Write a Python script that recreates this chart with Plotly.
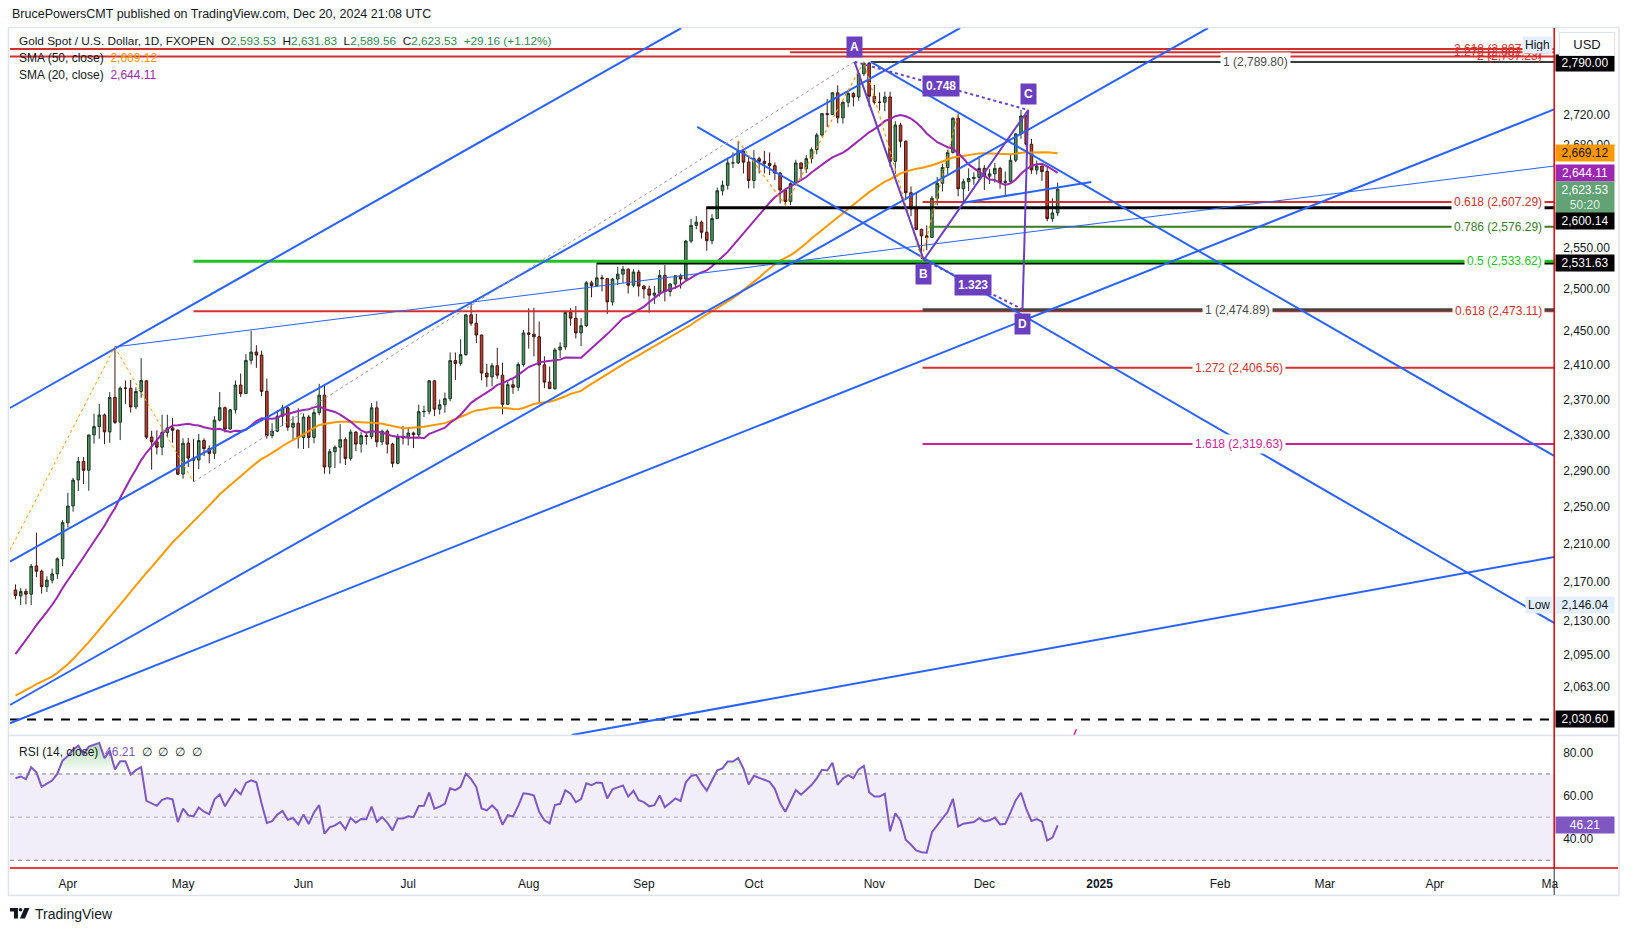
import math
import pandas as pd
import plotly.graph_objects as go

W, H = 1634, 931
FONT = "Liberation Sans, Arial, sans-serif"
TXT = "#131722"

# ---------------- data: daily bars 15 Mar 2024 .. 20 Dec 2024 (bar index 0..199) ----------------
opens = [
    2161.7, 2155.5, 2160.2, 2157.2, 2186.9, 2181.4, 2165.1, 2171.9, 2178.6, 2194.5,
    2233.0, 2251.2, 2279.7, 2300.2, 2290.4, 2329.8, 2339.3, 2352.4, 2333.2, 2372.5,
    2344.2, 2383.1, 2383.0, 2361.6, 2379.3, 2391.5, 2327.4, 2322.1, 2316.1, 2332.6,
    2337.7, 2335.1, 2286.1, 2320.6, 2303.9, 2301.7, 2323.5, 2314.5, 2309.2, 2346.5,
    2360.6, 2336.4, 2358.3, 2386.6, 2376.7, 2415.3, 2425.0, 2421.4, 2379.3, 2329.0,
    2334.0, 2351.0, 2360.5, 2338.5, 2343.0, 2327.0, 2350.0, 2327.0, 2355.0, 2375.0,
    2294.0, 2311.0, 2316.0, 2324.5, 2303.5, 2333.0, 2319.5, 2329.0, 2328.0, 2360.5,
    2322.0, 2334.0, 2319.5, 2298.0, 2327.0, 2326.5, 2332.0, 2330.0, 2356.0, 2356.5,
    2391.5, 2359.0, 2364.0, 2371.0, 2415.0, 2411.5, 2422.0, 2469.0, 2459.0, 2445.0,
    2400.5, 2396.0, 2409.0, 2398.0, 2364.5, 2387.0, 2384.0, 2410.5, 2447.5, 2446.0,
    2443.0, 2410.0, 2390.0, 2382.5, 2427.5, 2431.0, 2472.0, 2465.0, 2447.5, 2456.0,
    2507.5, 2504.0, 2513.5, 2512.5, 2484.5, 2512.0, 2518.0, 2524.0, 2504.5, 2520.5,
    2503.5, 2500.0, 2492.5, 2495.0, 2516.5, 2497.0, 2506.0, 2516.0, 2512.0, 2558.5,
    2578.0, 2582.0, 2569.5, 2559.0, 2586.5, 2621.5, 2628.5, 2657.0, 2657.0, 2672.0,
    2658.0, 2634.5, 2662.5, 2659.0, 2656.5, 2653.5, 2644.0, 2622.5, 2608.0, 2630.5,
    2657.0, 2649.5, 2662.5, 2674.0, 2693.0, 2721.0, 2720.0, 2748.5, 2715.5, 2736.0,
    2747.5, 2743.0, 2774.0, 2788.0, 2744.0, 2736.0, 2736.0, 2743.0, 2659.0, 2706.0,
    2685.0, 2619.0, 2598.5, 2573.0, 2565.0, 2563.0, 2612.0, 2631.0, 2651.0, 2670.5,
    2715.0, 2624.0, 2633.0, 2637.0, 2638.5, 2650.0, 2640.0, 2643.0, 2650.0, 2632.0,
    2633.5, 2660.5, 2694.5, 2718.0, 2681.0, 2648.0, 2653.0, 2646.0, 2586.5, 2593.53,
]
highs = [
    2167.5, 2163.7, 2163.1, 2188.9, 2222.4, 2183.0, 2176.0, 2184.0, 2196.0, 2236.0,
    2265.6, 2282.0, 2305.1, 2304.9, 2330.2, 2353.8, 2365.0, 2354.0, 2378.5, 2431.5,
    2385.0, 2392.0, 2392.5, 2384.0, 2417.8, 2392.0, 2334.5, 2335.0, 2352.5, 2352.7,
    2349.0, 2336.0, 2326.0, 2326.5, 2325.0, 2331.0, 2326.0, 2318.0, 2351.0, 2378.6,
    2362.0, 2359.0, 2392.0, 2400.0, 2422.5, 2450.1, 2433.0, 2426.5, 2394.0, 2343.0,
    2358.0, 2364.0, 2362.0, 2351.0, 2360.0, 2354.0, 2352.0, 2359.0, 2388.0, 2387.5,
    2314.0, 2318.0, 2342.0, 2327.0, 2336.0, 2334.0, 2333.0, 2332.0, 2366.0, 2368.0,
    2336.0, 2336.0, 2321.0, 2331.0, 2340.0, 2338.5, 2333.5, 2364.0, 2363.0, 2392.5,
    2392.0, 2370.0, 2378.0, 2424.5, 2424.5, 2440.0, 2469.0, 2483.5, 2470.0, 2445.5,
    2411.0, 2412.0, 2430.0, 2412.5, 2390.5, 2393.0, 2413.0, 2451.0, 2477.0, 2477.5,
    2461.0, 2420.0, 2408.0, 2430.0, 2436.5, 2474.0, 2477.0, 2479.5, 2465.0, 2509.5,
    2510.0, 2531.5, 2517.0, 2513.0, 2513.5, 2527.0, 2528.0, 2525.0, 2524.0, 2523.5,
    2505.0, 2504.0, 2503.5, 2523.0, 2529.0, 2507.0, 2517.0, 2518.5, 2560.0, 2586.0,
    2589.5, 2584.0, 2600.0, 2592.0, 2625.5, 2634.5, 2664.0, 2670.5, 2685.5, 2674.5,
    2665.0, 2673.5, 2665.0, 2672.5, 2670.5, 2657.5, 2645.5, 2624.0, 2632.0, 2661.0,
    2657.5, 2667.0, 2677.0, 2696.0, 2722.0, 2740.5, 2749.0, 2758.5, 2737.5, 2749.5,
    2749.5, 2774.5, 2790.0, 2790.0, 2759.0, 2749.0, 2750.0, 2750.0, 2711.0, 2709.0,
    2686.0, 2627.0, 2619.0, 2574.0, 2578.0, 2615.0, 2639.0, 2656.0, 2674.0, 2716.0,
    2721.5, 2637.0, 2650.0, 2645.0, 2665.5, 2654.0, 2649.0, 2657.0, 2652.0, 2646.0,
    2668.0, 2695.5, 2726.0, 2720.0, 2688.0, 2660.0, 2653.0, 2652.0, 2612.0, 2631.83,
]
lows = [
    2152.0, 2146.0, 2146.7, 2146.0, 2175.0, 2157.8, 2159.5, 2168.5, 2173.2, 2186.9,
    2228.0, 2245.0, 2267.6, 2275.0, 2267.8, 2320.0, 2325.5, 2319.4, 2321.0, 2342.0,
    2324.0, 2365.0, 2355.0, 2359.0, 2372.0, 2325.0, 2291.0, 2308.0, 2307.0, 2327.0,
    2321.0, 2285.5, 2281.0, 2294.0, 2277.4, 2291.5, 2306.0, 2298.0, 2303.0, 2345.0,
    2332.5, 2336.0, 2354.0, 2373.0, 2376.5, 2410.5, 2406.5, 2374.0, 2325.5, 2326.0,
    2333.0, 2340.0, 2334.5, 2323.0, 2314.5, 2314.0, 2315.0, 2320.5, 2352.0, 2286.5,
    2286.0, 2293.0, 2298.0, 2296.0, 2301.0, 2311.5, 2310.0, 2319.0, 2325.0, 2316.0,
    2318.5, 2309.0, 2293.5, 2297.0, 2319.0, 2318.0, 2315.0, 2327.5, 2350.0, 2353.0,
    2351.0, 2353.0, 2355.0, 2368.0, 2392.5, 2409.0, 2420.5, 2456.0, 2435.5, 2392.0,
    2384.5, 2385.0, 2394.0, 2353.0, 2364.0, 2376.5, 2380.0, 2408.0, 2429.0, 2420.0,
    2364.5, 2383.0, 2382.0, 2381.0, 2418.0, 2427.5, 2456.0, 2441.0, 2432.0, 2454.5,
    2490.0, 2503.0, 2497.0, 2470.0, 2480.0, 2504.5, 2507.0, 2494.5, 2502.0, 2491.0,
    2488.5, 2471.5, 2482.0, 2491.0, 2485.0, 2491.0, 2500.0, 2500.5, 2511.0, 2556.0,
    2573.0, 2561.5, 2546.5, 2554.5, 2586.5, 2615.5, 2623.0, 2650.5, 2655.5, 2643.5,
    2624.5, 2624.5, 2643.5, 2643.5, 2641.5, 2635.0, 2605.5, 2604.5, 2603.5, 2628.0,
    2637.0, 2644.0, 2656.5, 2668.0, 2691.0, 2703.5, 2719.0, 2708.5, 2708.0, 2729.5,
    2730.5, 2738.0, 2771.0, 2730.0, 2733.0, 2725.0, 2724.0, 2652.0, 2643.0, 2677.0,
    2610.0, 2589.5, 2572.0, 2536.5, 2547.5, 2563.0, 2603.0, 2620.5, 2643.0, 2669.0,
    2614.5, 2605.0, 2621.0, 2629.0, 2634.0, 2622.5, 2630.0, 2632.0, 2624.0, 2613.5,
    2630.0, 2658.0, 2688.0, 2677.0, 2643.0, 2642.0, 2634.0, 2583.0, 2582.5, 2589.56,
]
closes = [
    2155.9, 2160.1, 2157.3, 2186.6, 2181.3, 2165.2, 2171.9, 2178.5, 2194.4, 2233.1,
    2251.1, 2279.5, 2300.2, 2290.3, 2329.6, 2339.2, 2352.3, 2333.3, 2372.4, 2344.0,
    2383.0, 2383.0, 2361.5, 2379.2, 2391.8, 2327.3, 2322.0, 2316.0, 2332.5, 2337.6,
    2335.0, 2286.0, 2320.5, 2303.9, 2301.6, 2323.5, 2314.4, 2309.1, 2346.5, 2360.6,
    2336.4, 2358.3, 2386.6, 2376.7, 2415.2, 2425.0, 2421.5, 2379.3, 2329.0, 2334.0,
    2351.0, 2360.5, 2338.5, 2343.0, 2327.0, 2350.0, 2327.0, 2355.0, 2375.0, 2294.0,
    2311.0, 2316.0, 2324.5, 2303.5, 2333.0, 2319.5, 2329.0, 2328.0, 2360.5, 2322.0,
    2334.0, 2319.5, 2298.0, 2327.0, 2326.5, 2332.0, 2330.0, 2356.0, 2356.5, 2391.5,
    2359.0, 2364.0, 2371.0, 2415.0, 2411.5, 2422.0, 2469.0, 2459.0, 2445.0, 2400.5,
    2396.0, 2409.0, 2398.0, 2364.5, 2387.0, 2384.0, 2410.5, 2447.5, 2446.0, 2443.0,
    2410.0, 2390.0, 2382.5, 2427.5, 2431.0, 2472.0, 2465.0, 2447.5, 2456.0, 2507.5,
    2504.0, 2513.5, 2512.5, 2484.5, 2512.0, 2518.0, 2524.0, 2504.5, 2520.5, 2503.5,
    2500.0, 2492.5, 2495.0, 2516.5, 2497.0, 2506.0, 2516.0, 2512.0, 2558.5, 2578.0,
    2582.0, 2569.5, 2559.0, 2586.5, 2621.5, 2628.5, 2657.0, 2657.0, 2672.0, 2658.0,
    2634.5, 2662.5, 2659.0, 2656.5, 2653.5, 2644.0, 2622.5, 2608.0, 2630.5, 2657.0,
    2649.5, 2662.5, 2674.0, 2693.0, 2721.0, 2720.0, 2748.5, 2715.5, 2736.0, 2747.5,
    2743.0, 2774.0, 2788.0, 2744.0, 2736.0, 2736.0, 2743.0, 2659.0, 2706.0, 2685.0,
    2619.0, 2598.5, 2573.0, 2565.0, 2563.0, 2612.0, 2631.0, 2651.0, 2670.5, 2715.0,
    2624.0, 2633.0, 2637.0, 2638.5, 2650.0, 2640.0, 2643.0, 2650.0, 2632.0, 2633.5,
    2660.5, 2694.5, 2718.0, 2681.0, 2648.0, 2653.0, 2646.0, 2586.5, 2593.5, 2623.53,
]
# closes 2 Jan .. 14 Mar 2024, only used to warm up the SMA / RSI indicators
warmup_closes = [
    2058.9, 2042.3, 2043.4, 2045.0, 2027.9, 2029.9, 2024.5, 2028.9, 2049.1, 2055.3,
    2028.1, 2006.4, 2023.2, 2029.1, 2021.6, 2029.5, 2013.8, 2020.5, 2018.1, 2033.0,
    2036.9, 2039.3, 2054.8, 2039.3, 2024.8, 2035.5, 2035.6, 2034.0, 2024.1, 2020.5,
    1992.8, 1992.2, 2004.2, 2013.2, 2017.7, 2024.9, 2025.6, 2024.1, 2035.4, 2031.0,
    2030.2, 2034.3, 2044.5, 2082.9, 2114.6, 2128.0, 2148.0, 2159.9, 2178.9, 2182.1,
    2158.1, 2174.6, 2162.3,
]

# time axis (bar index of first bar of each month, future bars = weekdays)
month_bar = [10, 32, 55, 75, 98, 120, 141, 164, 185, 207, 230, 250, 271, 293]
month_text = ["Apr", "May", "Jun", "Jul", "Aug", "Sep", "Oct", "Nov", "Dec",
              "<b>2025</b>", "Feb", "Mar", "Apr", "Ma"]
price_ticks = [2720, 2680, 2550, 2500, 2450, 2410, 2370, 2330, 2290, 2250,
               2210, 2170, 2130, 2095, 2063]
rsi_ticks = [40, 60, 80]

# drawn trend lines: (bar0, price0, bar1, price1)
blue_lines = [
    (-1.05, 2360.3, 127.14, 2835.9),
    (-1.05, 2191.4, 180.38, 2835.9),
    (-1.05, 2044.8, 227.71, 2835.9),
    (-1.05, 2026.8, 293.8, 2726.6),
    (106.19, 2015.4, 293.8, 2196.4),
    (180.67, 2606.0, 205.43, 2632.6),
    (130.19, 2703.5, 293.8, 2127.5),
    (163.33, 2789.8, 293.8, 2306.2),
]
thin_line = (18.95, 2430.9, 293.8, 2653.0)
gray_dotted = (34.0, 2277.5, 160.1, 2789.8)
zigzag1_bar = [-1.05, 18.95, 34.0]
zigzag1_price = [2203.8, 2430.9, 2277.5]
zigzag2_bar = [138, 147, 162, 173, 180]
zigzag2_price = [2685.5, 2603.5, 2790.0, 2536.5, 2721.5]

# ABCD pattern
abcd_name = ["A", "B", "C", "D"]
abcd_bar = [160.23, 173.43, 193.37, 192.29]
abcd_price = [2790.0, 2535.3, 2725.8, 2475.6]
abcd_ratio = ["0.748", "1.323"]

# horizontal levels: (start bar, price)
levels = {
    "top_2618": (-1.05, 2807.4),
    "top_1272": (147.9, 2802.8),
    "top_2": (-1.05, 2797.23),
    "top_1": (163.3, 2789.80),
    "black_2600": (131.9, 2600.14),
    "black_2531": (111.05, 2531.63),
    "green_05": (34.0, 2533.62),
    "red_0618_lo": (34.0, 2473.11),
    "gray_1": (173.2, 2474.89),
    "red_0618": (173.2, 2607.29),
    "green_0786": (174.6, 2576.29),
    "red_1272": (173.2, 2406.56),
    "mag_1618": (173.2, 2319.63),
    "dash_2030": (-1.05, 2030.60),
}

# ---------------- indicators ----------------
n = len(closes)
bar = list(range(n))
allc = pd.Series(warmup_closes + closes, dtype=float)
k = len(warmup_closes)
sma20 = allc.rolling(20).mean().iloc[k:].tolist()
sma50 = allc.rolling(50).mean().iloc[k:].tolist()
d = allc.diff().fillna(0)
ag = d.clip(lower=0).ewm(alpha=1 / 14, adjust=False).mean()
al = (-d).clip(lower=0).ewm(alpha=1 / 14, adjust=False).mean()
rsi = (100 - 100 / (1 + ag / al)).iloc[k:].tolist()

# ---------------- figure ----------------
X_RANGE = [-1.048, 293.81]
P_LO, P_HI = 2015.38, 2835.94
RSI_RANGE = [27.36, 87.59]
XL, XR = 10, 1558


def pxp(x):
    return x / W


def pyp(y):
    return 1 - y / H


fig = go.Figure()

fig.add_trace(go.Candlestick(
    x=bar, open=opens, high=highs, low=lows, close=closes,
    increasing=dict(line=dict(color="#1d3524", width=1), fillcolor="#4f9564"),
    decreasing=dict(line=dict(color="#3d1712", width=1), fillcolor="#c33b2c"),
    whiskerwidth=0, xaxis="x", yaxis="y", hoverinfo="skip", showlegend=False))

fig.add_trace(go.Scatter(x=bar, y=sma50, mode="lines", line=dict(color="#ff9800", width=2),
                         xaxis="x", yaxis="y", hoverinfo="skip"))
fig.add_trace(go.Scatter(x=bar, y=sma20, mode="lines", line=dict(color="#9c27b0", width=2),
                         xaxis="x", yaxis="y", hoverinfo="skip"))


def add_line(xs, ys, color, width, dash=None, axes=("x", "y")):
    fig.add_trace(go.Scatter(x=xs, y=ys, mode="lines",
                             line=dict(color=color, width=width, dash=dash),
                             xaxis=axes[0], yaxis=axes[1], hoverinfo="skip", showlegend=False))


# horizontal levels
lvl_style = {
    "top_2618": ("#d32f2f", 2, None),
    "top_1272": ("#d32f2f", 2, None),
    "top_2": ("#d32f2f", 2, None),
    "top_1": ("#3a3a3a", 2, None),
    "black_2600": ("#000000", 3, None),
    "black_2531": ("#000000", 3, None),
    "green_05": ("#22c322", 3, None),
    "red_0618_lo": ("#d32f2f", 2, None),
    "gray_1": ("#454545", 3, None),
    "red_0618": ("#d32f2f", 2, None),
    "green_0786": ("#3c7a1f", 2, None),
    "red_1272": ("#d32f2f", 2, None),
    "mag_1618": ("#cc2299", 2, None),
    "dash_2030": ("#000000", 2, "9px,8px"),
}
for key, (b0, p) in levels.items():
    c, w, ds = lvl_style[key]
    add_line([b0, X_RANGE[1] + 2], [p, p], c, w, ds)

# trend lines
for (b0, p0, b1, p1) in blue_lines:
    add_line([b0, b1], [p0, p1], "#2962ff", 2)
add_line([thin_line[0], thin_line[2]], [thin_line[1], thin_line[3]], "#2962ff", 1)
add_line([gray_dotted[0], gray_dotted[2]], [gray_dotted[1], gray_dotted[3]], "#9e9e9e", 1, "dot")
add_line(zigzag1_bar, zigzag1_price, "#ff9800", 1, "dot")
add_line(zigzag2_bar, zigzag2_price, "#ff9800", 1.2, "dot")
# small stray mark near bottom
add_line([201.9, 202.6], [2013.0, 2021.0], "#e91e63", 1.5)

# ABCD
PURPLE = "#6a40c0"
add_line(abcd_bar, abcd_price, PURPLE, 2)
add_line([abcd_bar[0], abcd_bar[2]], [abcd_price[0], abcd_price[2]], PURPLE, 2, "dot")
add_line([abcd_bar[1], abcd_bar[3]], [abcd_price[1], abcd_price[3]], PURPLE, 2, "dot")

# ---------------- RSI pane ----------------
add_line(bar, [70] * n, "rgba(0,0,0,0)", 0, axes=("x2", "y2"))
fig.add_trace(go.Scatter(x=bar, y=[max(v, 70) for v in rsi], mode="lines", line=dict(width=0),
                         fill="tonexty",
                         fillgradient=dict(type="vertical",
                                           colorscale=[[0, "rgba(76,175,80,0)"], [1, "rgba(76,175,80,0.55)"]],
                                           start=70, stop=88),
                         xaxis="x2", yaxis="y2", hoverinfo="skip", showlegend=False))
add_line(bar, [30] * n, "rgba(0,0,0,0)", 0, axes=("x2", "y2"))
fig.add_trace(go.Scatter(x=bar, y=[min(v, 30) for v in rsi], mode="lines", line=dict(width=0),
                         fill="tonexty", fillcolor="rgba(242,54,69,0.25)",
                         xaxis="x2", yaxis="y2", hoverinfo="skip", showlegend=False))
add_line(bar, rsi, "#7e57c2", 2, axes=("x2", "y2"))

shapes = [
    dict(type="rect", xref="x2", yref="y2", x0=X_RANGE[0], x1=X_RANGE[1], y0=30, y1=70,
         fillcolor="rgba(126,87,194,0.1)", line=dict(width=0), layer="below"),
    dict(type="line", xref="x2", yref="y2", x0=X_RANGE[0], x1=X_RANGE[1], y0=70, y1=70,
         line=dict(color="#787b86", width=1, dash="4px,4px")),
    dict(type="line", xref="x2", yref="y2", x0=X_RANGE[0], x1=X_RANGE[1], y0=50, y1=50,
         line=dict(color="rgba(120,123,134,0.55)", width=1, dash="4px,4px")),
    dict(type="line", xref="x2", yref="y2", x0=X_RANGE[0], x1=X_RANGE[1], y0=30, y1=30,
         line=dict(color="#787b86", width=1, dash="4px,4px")),
    # chart frame and pane separator
    dict(type="rect", xref="paper", yref="paper", x0=pxp(8.5), x1=pxp(1623), y0=pyp(895.5), y1=pyp(27.5),
         line=dict(color="#e0e3eb", width=1.5), fillcolor="rgba(0,0,0,0)"),
    dict(type="line", xref="paper", yref="paper", x0=pxp(9), x1=pxp(1623), y0=pyp(735.5), y1=pyp(735.5),
         line=dict(color="#e0e3eb", width=1.5)),
    # red frame lines
    dict(type="line", xref="paper", yref="paper", x0=pxp(1558), x1=pxp(1558), y0=pyp(868), y1=pyp(28),
         line=dict(color="#e00000", width=1.5)),
    dict(type="line", xref="paper", yref="paper", x0=pxp(10), x1=pxp(1622), y0=pyp(868), y1=pyp(868),
         line=dict(color="#e00000", width=1.5)),
    dict(type="line", xref="paper", yref="paper", x0=pxp(1558), x1=pxp(1558), y0=pyp(895), y1=pyp(868),
         line=dict(color="#2a2e39", width=1)),
]


def ppath(pts):
    s = "M " + " L ".join(f"{pxp(x):.5f},{pyp(y):.5f}" for x, y in pts) + " Z"
    return s


# TradingView logo
shapes += [
    dict(type="path", xref="paper", yref="paper", path=ppath([(10, 908), (18, 908), (18, 918.5), (14, 918.5), (14, 911.5), (10, 911.5)]),
         fillcolor="#131722", line=dict(width=0)),
    dict(type="circle", xref="paper", yref="paper", x0=pxp(18.8), x1=pxp(22.4), y0=pyp(911.6), y1=pyp(908),
         fillcolor="#131722", line=dict(width=0)),
    dict(type="path", xref="paper", yref="paper", path=ppath([(24.5, 908), (29.5, 908), (25, 918.5), (20, 918.5)]),
         fillcolor="#131722", line=dict(width=0)),
]

ann = []


def note(x, y, text, xref="paper", yref="paper", xanchor="left", yanchor="middle", size=12,
         color=TXT, bg=None, **kw):
    d = dict(x=x, y=y, xref=xref, yref=yref, xanchor=xanchor, yanchor=yanchor, text=text,
             showarrow=False, font=dict(size=size, color=color, family=FONT))
    if bg:
        d["bgcolor"] = bg
    d.update(kw)
    ann.append(d)


UP = "#2f8a52"
NB = "\u00a0"
note(pxp(10), pyp(14), "BrucePowersCMT published on TradingView.com, Dec 20, 2024 21:08 UTC", size=12.5)
note(pxp(17), pyp(41.5),
     f"Gold Spot / U.S. Dollar, 1D, FXOPEN{NB}{NB}O<span style='color:{UP}'>2,593.53</span>{NB}{NB}"
     f"H<span style='color:{UP}'>2,631.83</span>{NB}{NB}L<span style='color:{UP}'>2,589.56</span>{NB}{NB}"
     f"C<span style='color:{UP}'>2,623.53</span>{NB}{NB}<span style='color:{UP}'>+29.16 (+1.12%)</span>",
     size=11.8)
note(pxp(17), pyp(58.5), f"SMA (50, close){NB}{NB}<span style='color:#ff9800'>2,669.12</span>")
note(pxp(17), pyp(75.5), f"SMA (20, close){NB}{NB}<span style='color:#9c27b0'>2,644.11</span>")
note(pxp(17), pyp(751.5),
     f"RSI (14, close){NB}{NB}<span style='color:#7e57c2'>46.21</span>{NB}{NB}∅{NB}{NB}∅{NB}{NB}∅{NB}{NB}∅")
note(pxp(33), pyp(913.5), "TradingView", size=14)

lg = math.log10
# fib labels right-aligned
for txt, p, c, bg in [
    ("2.618 (2,807.69)", 2807.4, "#d32f2f", None),
    ("1.272 (2,802.49)", 2802.8, "#d32f2f", None),
    ("2 (2,797.23)", 2797.23, "#d32f2f", None),
    ("0.618 (2,607.29)", 2607.29, "#d32f2f", "white"),
    ("0.786 (2,576.29)", 2576.29, "#3c7a1f", "white"),
    ("0.5 (2,533.62)", 2533.62, "#22c322", "white"),
    ("0.618 (2,473.11)", 2473.11, "#d32f2f", "white"),
]:
    note(pxp(1549), lg(p), txt, yref="y", xanchor="right", color=c, bg=bg, borderpad=2)
# fib labels centered
for txt, p, c, xc in [
    ("1 (2,789.80)", 2789.80, "#4a4a4a", 1259),
    ("1 (2,474.89)", 2474.89, "#4a4a4a", 1241),
    ("1.272 (2,406.56)", 2406.56, "#d32f2f", 1242),
    ("1.618 (2,319.63)", 2319.63, "#cc2299", 1242),
]:
    note(pxp(xc), lg(p), txt, yref="y", xanchor="center", color=c, bg="white", borderpad=2)

# ABCD labels
shift = [15, -14, 16, -15]
for nm, b, p, s in zip(abcd_name, abcd_bar, abcd_price, shift):
    note(b, lg(p), f"<b>{nm}</b>", xref="x", yref="y", xanchor="center", color="white", bg=PURPLE,
         yshift=s, borderpad=3, size=12)
for r, (i0, i1) in zip(abcd_ratio, [(0, 2), (1, 3)]):
    note((abcd_bar[i0] + abcd_bar[i1]) / 2, (lg(abcd_price[i0]) + lg(abcd_price[i1])) / 2,
         f"<b>{r}</b>", xref="x", yref="y", xanchor="center", color="white", bg=PURPLE, borderpad=3)

# price-scale boxes


def pbox(text, y, yref, bg, fg, yshift=0, yanchor="middle", h=12):
    note(pxp(1559), y, text, yref=yref, xanchor="left", yanchor=yanchor, color=fg, bg=bg,
         yshift=yshift, width=54, height=h, borderpad=2, align="center")


pbox("2,790.00", lg(2789.80), "y", "#000000", "white", yshift=-1)
pbox("2,669.12", lg(2669.12), "y", "#ff9800", TXT)
pbox("2,644.11", lg(2644.11), "y", "#9c27b0", "white")
pbox("2,623.53<br><span style='color:#dfeee3'>50:20</span>", lg(2623.53), "y", "#62a274", "white",
     yshift=8, yanchor="top", h=27)
pbox("2,600.14", lg(2600.14), "y", "#000000", "white", yshift=-13)
pbox("2,531.63", lg(2531.63), "y", "#000000", "white")
pbox("2,146.04", lg(2146.04), "y", "#e3effd", TXT)
pbox("2,030.60", lg(2030.60), "y", "#000000", "white")
pbox("46.21", 46.21, "y2", "#7e57c2", "white")
note(pxp(1557), lg(2146.04), "Low", yref="y", xanchor="right", bg="#e3effd", borderpad=2, height=12)
note(pxp(1557), pyp(45), "High", xanchor="right", bg="#e3effd", borderpad=2, height=12)
note(pxp(1591), pyp(44), "USD", xanchor="center", bg="white", bordercolor="#e0e3eb", borderwidth=1,
     width=50, height=18, borderpad=2, size=13)

fig.update_layout(
    width=W, height=H, margin=dict(l=0, r=0, t=0, b=0),
    paper_bgcolor="white", plot_bgcolor="white", showlegend=False, hovermode=False,
    font=dict(family=FONT, size=12, color=TXT),
    xaxis=dict(domain=[pxp(XL), pxp(XR)], range=X_RANGE, anchor="y", showticklabels=False,
               showgrid=False, zeroline=False, showline=False, rangeslider=dict(visible=False)),
    yaxis=dict(domain=[pyp(735), pyp(28)], type="log", range=[lg(P_LO), lg(P_HI)], anchor="x",
               side="right", tickvals=price_ticks, ticktext=[f"{v:,.2f}" for v in price_ticks],
               showgrid=False, zeroline=False, showline=False, ticks="", ticklabelstandoff=8,
               tickfont=dict(size=12, color=TXT)),
    xaxis2=dict(domain=[pxp(XL), pxp(XR)], range=X_RANGE, anchor="y2", tickvals=month_bar,
                ticktext=month_text, showgrid=False, zeroline=False, showline=False, ticks="",
                ticklabelstandoff=9, tickfont=dict(size=12, color=TXT)),
    yaxis2=dict(domain=[pyp(866), pyp(736)], range=RSI_RANGE, anchor="x2", side="right",
                tickvals=rsi_ticks, ticktext=[f"{v:.2f}" for v in rsi_ticks], showgrid=False,
                zeroline=False, showline=False, ticks="", ticklabelstandoff=8,
                tickfont=dict(size=12, color=TXT)),
    shapes=shapes, annotations=ann,
)

fig.write_html("out.html", config={"displayModeBar": False, "staticPlot": True},
               post_script="document.body.style.margin='0px';document.body.style.overflow='hidden';")
